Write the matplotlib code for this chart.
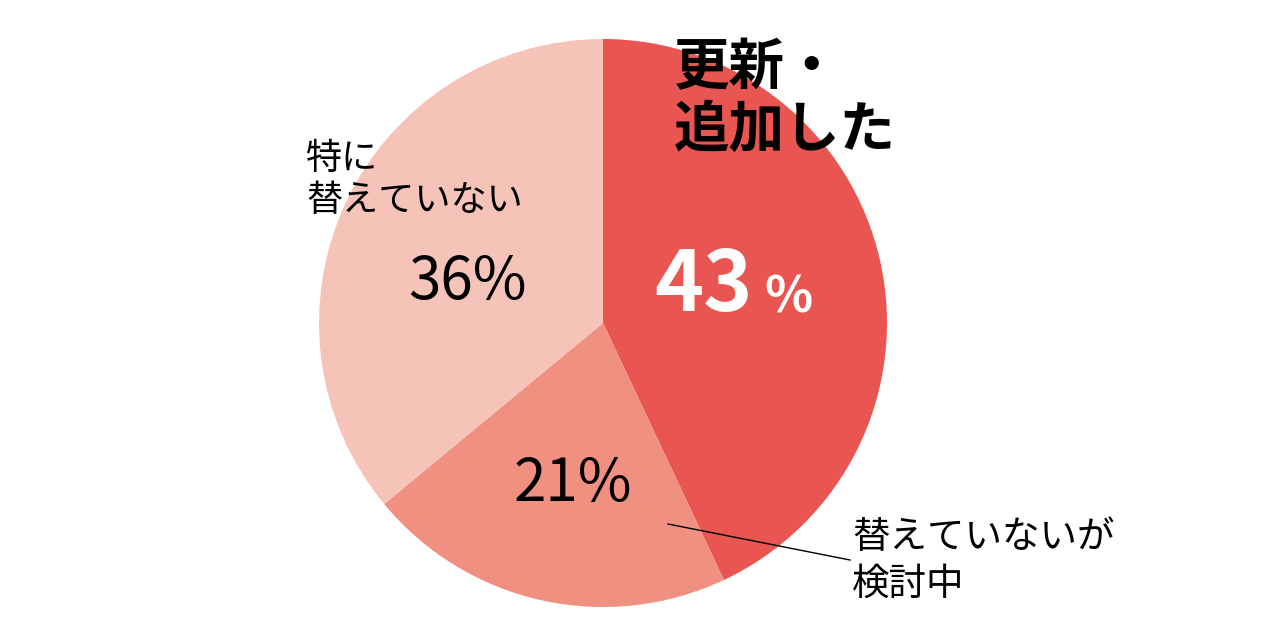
import matplotlib
matplotlib.use("Agg")
import matplotlib.pyplot as plt

plt.rcParams['font.family'] = ['Noto Sans CJK JP', 'DejaVu Sans']

labels = ["更新・\n追加した", "替えていないが\n検討中", "特に\n替えていない"]
values = [43, 21, 36]
colors = ["#E95550", "#EF9080", "#F6C3B8"]

W, H = 1280, 620
fig = plt.figure(figsize=(12.8, 6.2), dpi=100)
cx, cy, r = 603, 323, 284
ax = fig.add_axes([(cx - r) / W, 1 - (cy + r) / H, 2 * r / W, 2 * r / H])
ax.pie(values, colors=colors, startangle=90, counterclock=False,
       wedgeprops=dict(linewidth=0))
ax.set_xlim(-1, 1)
ax.set_ylim(-1, 1)
ax.set_aspect('equal')

def ft(x, y, s, **kw):
    fig.text(x / W, 1 - y / H, s, **kw)

ft(674, 100, labels[0], fontsize=40, fontweight='bold', va='center', ha='left', linespacing=1.15)
ft(654, 286, f"{values[0]}", fontsize=60, fontweight='bold', color='white', va='center', ha='left')
ft(764, 298, "%", fontsize=36, fontweight='bold', color='white', va='center', ha='left')
ft(306, 180, labels[2], fontsize=26, va='center', ha='left', linespacing=1.25)
ft(408, 282, f"{values[2]}%", fontsize=42, va='center', ha='left')
ft(514, 484, f"{values[1]}%", fontsize=42, va='center', ha='left')
ft(852, 561, labels[1], fontsize=27, va='center', ha='left', linespacing=1.25)

fig.add_artist(plt.Line2D([668 / W, 850 / W], [1 - 524 / H, 1 - 560 / H], color='black', lw=1))

fig.savefig("out.png", dpi=100, facecolor='white')
